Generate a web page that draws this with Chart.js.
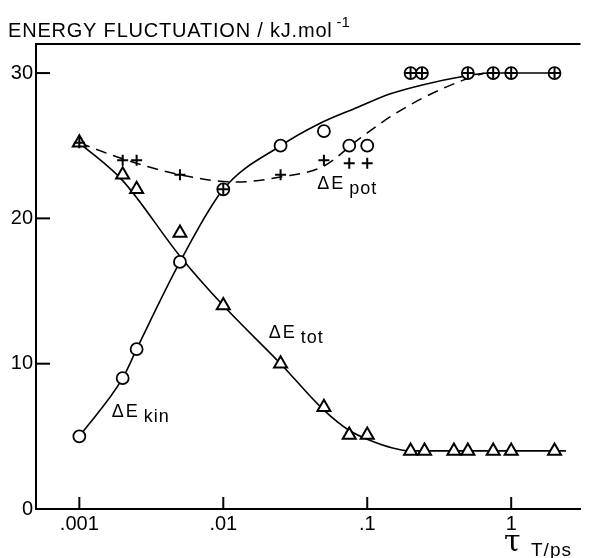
<!DOCTYPE html>
<html>
<head>
<meta charset="utf-8">
<script src="https://cdn.jsdelivr.net/npm/chart.js@4"></script>
<style>
  html, body { margin: 0; padding: 0; background: #fff; }
  #wrap { width: 590px; height: 558px; position: relative; }
</style>
</head>
<body>
<div id="wrap"><canvas id="c" width="590" height="558"></canvas></div>
<script>
// ---- axis ticks ----
const xTickValues = [0.001, 0.01, 0.1, 1];
const xTickLabels = ['.001', '.01', '.1', '1'];
const yTickValues = [0, 10, 20, 30];
const yTickLabels = ['0', '10', '20', '30'];

// ---- measured points: ΔE_tot (triangles) ----
const totX = [0.001, 0.002, 0.0025, 0.005, 0.01, 0.025, 0.05, 0.075, 0.1, 0.2, 0.25, 0.4, 0.5, 0.75, 1, 2];
const totY = [25.2, 23, 22, 19, 14, 10, 7, 5.1, 5.1, 4, 4, 4, 4, 4, 4, 4];

// ---- measured points: ΔE_kin (circles) ----
const kinX = [0.001, 0.002, 0.0025, 0.005, 0.01, 0.025, 0.05, 0.075, 0.1, 0.2, 0.24, 0.5, 0.75, 1, 2];
const kinY = [5, 9, 11, 17, 22, 25, 26, 25, 25, 30, 30, 30, 30, 30, 30];

// ---- measured points: ΔE_pot (crosses) ----
const potX = [0.001, 0.002, 0.0025, 0.005, 0.01, 0.025, 0.05, 0.075, 0.1, 0.2, 0.24, 0.5, 0.75, 1, 2];
const potY = [25.2, 24, 24, 23, 22, 23, 24, 23.8, 23.8, 30, 30, 30, 30, 30, 30];

// ---- fitted curves ----
const totCurveX = [0.001, 0.002, 0.005, 0.01, 0.025, 0.05, 0.075, 0.1, 0.15, 0.2, 0.5, 1, 2.4];
const totCurveY = [25.2, 22.6, 17.4, 14, 10, 6.8, 5.4, 4.8, 4.2, 4.0, 4, 4, 4];

const kinCurveX = [0.001, 0.002, 0.0025, 0.005, 0.01, 0.025, 0.046, 0.086, 0.145, 0.245, 0.46, 0.7, 2];
const kinCurveY = [5, 9, 11, 17, 22, 25, 26.5, 27.65, 28.57, 29.2, 29.76, 30, 30];

const potCurveX = [0.001, 0.002, 0.005, 0.0124, 0.025, 0.05, 0.086, 0.145, 0.245, 0.46, 0.65];
const potCurveY = [25.2, 24.1, 23.0, 22.5, 22.85, 23.6, 25.4, 27.0, 28.3, 29.5, 30];

// ---- text annotations (anchored in data coordinates) ----
const annoText = ['ΔE', 'ΔE', 'ΔE'];
const annoSub = ['kin', 'tot', 'pot'];
const annoX = [0.00168, 0.0207, 0.045];
const annoY = [6.3, 11.8, 22.0];

const titleMain = 'ENERGY FLUCTUATION / kJ.mol';
const titleSup = '-1';
const xLabelMain = 'τ';
const xLabelSub = 'T/ps';

const zip = (xs, ys) => xs.map((x, i) => ({ x: x, y: ys[i] }));

const FONT = '"Liberation Sans", Arial, sans-serif';

const extras = {
  id: 'extras',
  afterDraw(chart) {
    const ctx = chart.ctx;
    const xs = chart.scales.x, ys = chart.scales.y;
    const area = chart.chartArea;
    ctx.save();
    ctx.strokeStyle = '#000';
    ctx.fillStyle = '#000';
    // top frame line
    ctx.lineWidth = 2;
    ctx.beginPath();
    ctx.moveTo(area.left - 1, area.top);
    ctx.lineTo(area.right, area.top);
    ctx.stroke();
    // inward tick marks
    ctx.lineWidth = 2;
    xTickValues.forEach(v => {
      const px = xs.getPixelForValue(v);
      ctx.beginPath();
      ctx.moveTo(px, area.bottom);
      ctx.lineTo(px, area.bottom - 12);
      ctx.stroke();
    });
    yTickValues.forEach(v => {
      if (v === ys.min) return;
      const py = ys.getPixelForValue(v);
      ctx.beginPath();
      ctx.moveTo(area.left, py);
      ctx.lineTo(area.left + 14, py);
      ctx.stroke();
    });
    // annotations
    ctx.textBaseline = 'alphabetic';
    ctx.textAlign = 'left';
    annoText.forEach((t, i) => {
      const px = xs.getPixelForValue(annoX[i]);
      const py = ys.getPixelForValue(annoY[i]);
      ctx.font = '18px ' + FONT;
      ctx.letterSpacing = '2px';
      ctx.fillText(t, px, py);
      const w = ctx.measureText(t).width;
      ctx.font = '18px ' + FONT;
      ctx.letterSpacing = '1px';
      ctx.fillText(annoSub[i], px + w + 4, py + 5);
    });
    ctx.letterSpacing = '0px';
    // title
    ctx.font = '20px ' + FONT;
    ctx.letterSpacing = '0.8px';
    ctx.fillText(titleMain, 8, 37);
    const tw = ctx.measureText(titleMain).width;
    ctx.font = '15px ' + FONT;
    ctx.letterSpacing = '0px';
    ctx.fillText(titleSup, 8 + tw + 4, 27);
    // x axis label
    ctx.font = '30px "DejaVu Serif", serif';
    ctx.fillText(xLabelMain, 504, 551);
    ctx.font = '19px ' + FONT;
    ctx.letterSpacing = '1px';
    ctx.fillText(xLabelSub, 531, 556);
    ctx.restore();
  }
};

new Chart(document.getElementById('c'), {
  type: 'scatter',
  data: {
    datasets: [
      { label: 'ΔE pot', data: zip(potX, potY), showLine: false, pointStyle: 'cross', order: 0,
        pointRadius: 5.5, backgroundColor: '#000', borderColor: '#000', borderWidth: 2 },
      { label: 'ΔE kin', data: zip(kinX, kinY), showLine: false, pointStyle: 'circle', order: 1,
        pointRadius: 6, backgroundColor: '#fff', borderColor: '#000', borderWidth: 1.8 },
      { label: 'ΔE tot', data: zip(totX, totY), showLine: false, pointStyle: 'triangle', order: 2,
        pointRadius: 7.5, backgroundColor: '#fff', borderColor: '#000', borderWidth: 2 },
      { label: 'tot fit', data: zip(totCurveX, totCurveY), showLine: true, pointRadius: 0, order: 3,
        borderColor: '#000', borderWidth: 1.6, cubicInterpolationMode: 'monotone', fill: false },
      { label: 'kin fit', data: zip(kinCurveX, kinCurveY), showLine: true, pointRadius: 0, order: 3,
        borderColor: '#000', borderWidth: 1.6, cubicInterpolationMode: 'monotone', fill: false },
      { label: 'pot fit', data: zip(potCurveX, potCurveY), showLine: true, pointRadius: 0, order: 3,
        borderColor: '#000', borderWidth: 1.5, borderDash: [11, 7], cubicInterpolationMode: 'monotone', fill: false }
    ]
  },
  options: {
    responsive: false,
    animation: false,
    events: [],
    layout: { padding: { top: 44, right: 0, left: 0, bottom: 0 } },
    plugins: { legend: { display: false }, tooltip: { enabled: false }, title: { display: false } },
    scales: {
      x: {
        type: 'logarithmic', position: 'bottom', min: 0.0005, max: 3.03,
        grid: { display: false, drawTicks: false },
        border: { display: true, color: '#000', width: 2 },
        ticks: { color: '#000', font: { family: FONT, size: 20 }, padding: 3, maxRotation: 0, autoSkip: false,
          callback: (v, i) => xTickLabels[i] },
        afterBuildTicks: s => { s.ticks = xTickValues.map(v => ({ value: v })); },
        afterFit: s => { s.height = 49; }
      },
      y: {
        type: 'linear', position: 'left', min: 0, max: 32,
        grid: { display: false, drawTicks: false },
        border: { display: true, color: '#000', width: 2 },
        ticks: { color: '#000', font: { family: FONT, size: 20 }, padding: 3,
          callback: (v, i) => yTickLabels[i] },
        afterBuildTicks: s => { s.ticks = yTickValues.map(v => ({ value: v })); },
        afterFit: s => { s.width = 36; }
      }
    }
  },
  plugins: [extras]
});
</script>
</body>
</html>
